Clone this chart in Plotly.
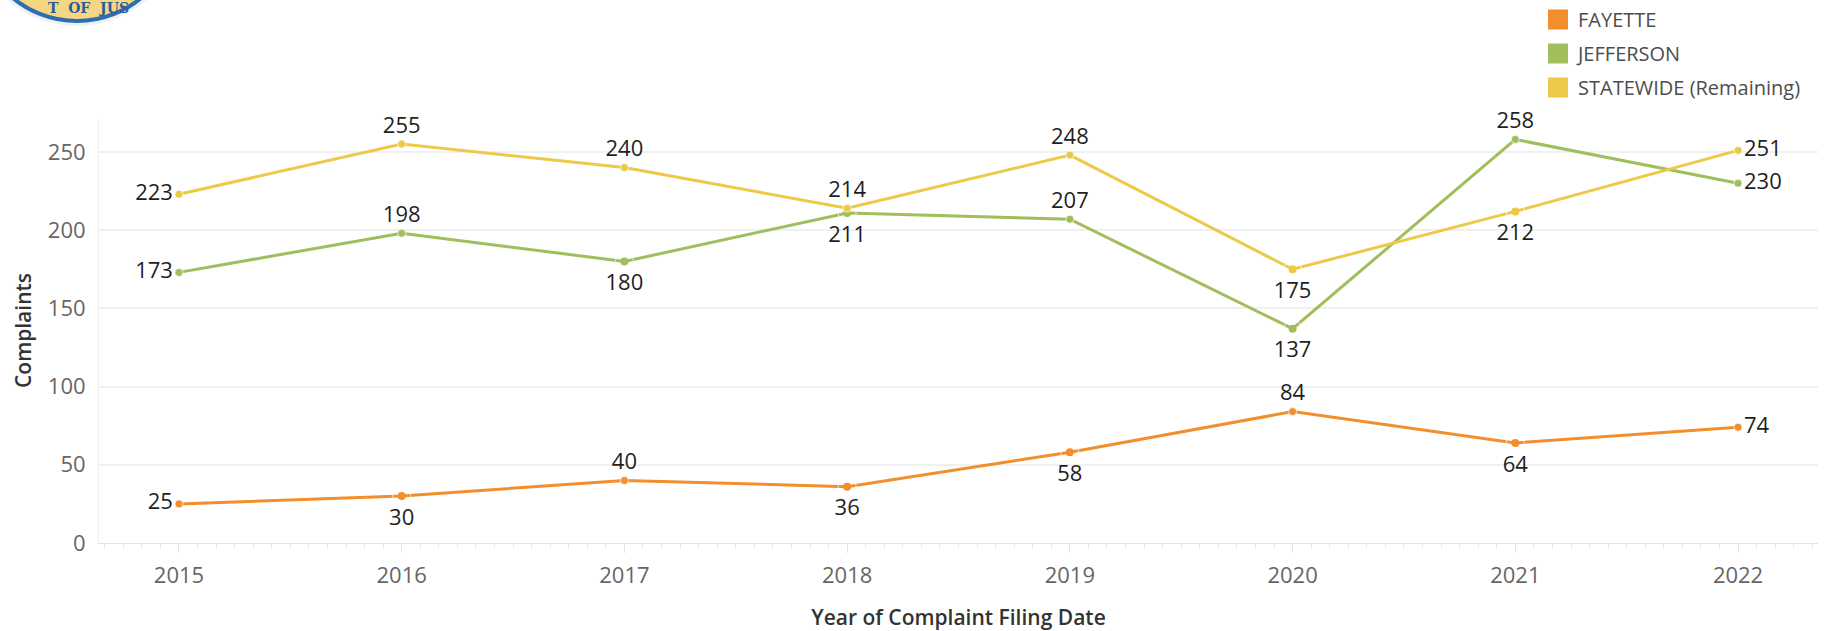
import plotly.graph_objects as go

# ---------------- data ----------------
years = [2015, 2016, 2017, 2018, 2019, 2020, 2021, 2022]
year_labels = ["2015", "2016", "2017", "2018", "2019", "2020", "2021", "2022"]
fayette = [25, 30, 40, 36, 58, 84, 64, 74]
jefferson = [173, 198, 180, 211, 207, 137, 258, 230]
statewide = [223, 255, 240, 214, 248, 175, 212, 251]
series_names = ["FAYETTE", "JEFFERSON", "STATEWIDE (Remaining)"]
y_ticks = [0, 50, 100, 150, 200, 250]

# label placement (style)
pos_fayette = ["middle left", "bottom center", "top center", "bottom center",
               "bottom center", "top center", "bottom center", "middle right"]
pos_jefferson = ["middle left", "top center", "bottom center", "bottom center",
                 "top center", "bottom center", "top center", "middle right"]
pos_statewide = ["middle left", "top center", "top center", "top center",
                 "top center", "bottom center", "bottom center", "middle right"]

colors = ["#F28E2B", "#A0BE5B", "#EDC948"]

W, H = 1832, 631
ML, MR, MT, MB = 99, 14, 118, 88
PW, PH = W - ML - MR, H - MT - MB


def px_x(px):
    return (px - ML) / PW


def px_y(py):
    return (H - MB - py) / PH


FONT = "'Open Sans', Lato, sans-serif"

fig = go.Figure()

for name, vals, pos, col in zip(series_names, [fayette, jefferson, statewide],
                                [pos_fayette, pos_jefferson, pos_statewide], colors):
    fig.add_trace(go.Scatter(
        x=years, y=vals, mode="lines+markers",
        name=name, showlegend=False,
        line=dict(color=col, width=3),
        marker=dict(color=col, size=8),
        hoverinfo="x+y+name",
    ))
    # value labels (transparent marker controls the label offset)
    fig.add_trace(go.Scatter(
        x=years, y=vals, mode="markers+text", showlegend=False,
        marker=dict(color="rgba(0,0,0,0)",
                    size=[18 if p.startswith("bottom") else 8 for p in pos]),
        text=[str(v) for v in vals], textposition=pos,
        textfont=dict(family=FONT, size=22, color="#1f1f1f"),
        cliponaxis=False,
        hoverinfo="skip",
    ))

# legend entries (square swatches)
for i, (name, col) in enumerate(zip(series_names, colors)):
    fig.add_trace(go.Scatter(
        x=[None], y=[None], mode="markers", name=name,
        legendgroup=f"g{i}",
        marker=dict(symbol="square", color=col, size=16,
                    line=dict(color=col, width=4)),
        showlegend=True,
    ))

# seal logo fragment (top-left)
cx, cy, r = 77, -80, 101
fig.add_shape(type="circle", xref="paper", yref="paper",
              x0=px_x(cx - r - 5), x1=px_x(cx + r + 5),
              y0=px_y(cy + r + 5), y1=px_y(cy - r - 5),
              line=dict(width=0), fillcolor="rgba(200,215,235,0.35)", layer="above")
fig.add_shape(type="circle", xref="paper", yref="paper",
              x0=px_x(cx - r), x1=px_x(cx + r),
              y0=px_y(cy + r), y1=px_y(cy - r),
              line=dict(color="#2F6DB0", width=4), fillcolor="#F4D683", layer="above")
fig.add_annotation(text="<b>T  OF  JUS</b>", xref="paper", yref="paper",
                   x=px_x(88), y=px_y(-2), xanchor="center", yanchor="top",
                   showarrow=False,
                   font=dict(family="DejaVu Serif", size=14, color="#2A5C9A"))

fig.update_layout(
    width=W, height=H,
    margin=dict(l=ML, r=MR, t=MT, b=MB, pad=0),
    paper_bgcolor="white", plot_bgcolor="white",
    font=dict(family=FONT, color="#666666"),
    legend=dict(
        xref="paper", yref="container",
        x=px_x(1538), y=1 + 1 / H, xanchor="left", yanchor="top",
        font=dict(family=FONT, size=20, color="#4d4d4d"),
        tracegroupgap=5, bgcolor="rgba(0,0,0,0)", borderwidth=0,
        itemclick=False, itemdoubleclick=False,
    ),
    xaxis=dict(
        range=[2014.641, 2022.359],
        tickmode="array", tickvals=years, ticktext=year_labels,
        tickfont=dict(family=FONT, size=22, color="#666666"),
        showgrid=False, zeroline=False,
        showline=True, linecolor="#E4E4E4", linewidth=1,
        ticks="outside", ticklen=9, tickcolor="#E4E4E4", tickwidth=1,
        ticklabelstandoff=4,
        minor=dict(tick0=2015, dtick=1 / 12, ticks="outside", ticklen=5,
                   tickcolor="#EBEBEB", showgrid=False),
        title=dict(text="Year of Complaint Filing Date", standoff=24,
                   font=dict(family=FONT, size=21, color="#333333", weight=600)),
        automargin=False, fixedrange=True,
    ),
    yaxis=dict(
        range=[0, 271.7],
        tickmode="array", tickvals=y_ticks,
        tickfont=dict(family=FONT, size=22, color="#666666"),
        showgrid=True, gridcolor="#F0F0F0", gridwidth=1.5,
        zeroline=False,
        showline=True, linecolor="#EEEEEE", linewidth=1,
        ticks="", ticklabelstandoff=8,
        title=dict(text="Complaints", standoff=10,
                   font=dict(family=FONT, size=21, color="#333333", weight=600)),
        automargin=False, fixedrange=True,
    ),
)

fig.write_html("out.html", config={"displayModeBar": False},
               post_script="document.body.style.margin='0';")
